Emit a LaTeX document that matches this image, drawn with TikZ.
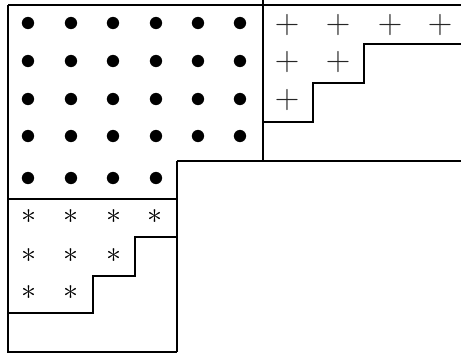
\RequirePackage{fix-cm}
\documentclass[tikz,border=0pt]{standalone}
\usepackage{amsmath,amssymb}
\usepackage{tikz}
\usetikzlibrary{positioning}

\begin{document}
\begin{tikzpicture}[
  x=1pt, y=-1pt,
  edge/.style={line width=2.2pt},
  stair/.style={line width=2.8pt},
  dotmark/.style={inner sep=0pt, font=\fontsize{32}{34}\selectfont},
  plusmark/.style={inner sep=0pt, font=\fontsize{34}{36}\selectfont, text=black!85},
  starmark/.style={inner sep=0pt, font=\fontsize{30}{32}\selectfont}
]
\useasboundingbox (0,0) rectangle (461,354);

% frame lines
\draw[edge] (8,5) -- (461,5);
\draw[edge] (8,5) -- (8,352) -- (177,352);
\draw[edge] (263,0) -- (263,161);
\draw[edge] (177,161) -- (461,161);
\draw[edge] (177,161) -- (177,352);
\draw[edge] (8,199) -- (177,199);

% staircases
\draw[stair] (263,122) -- (313,122) -- (313,83) -- (364,83) -- (364,44) -- (461,44);
\draw[stair] (8,313) -- (93,313) -- (93,276) -- (135,276) -- (135,237) -- (177,237);

% bullets
\foreach \r/\y in {1/24, 2/62, 3/100, 4/137}
  \foreach \c/\x in {1/28.5, 2/71, 3/113.5, 4/156, 5/198.5, 6/240}
    \node[dotmark] (d\r\c) at (\x,\y) {$\bullet$};
\foreach \c/\x in {1/28.5, 2/71, 3/113.5, 4/156}
  \node[dotmark] (d5\c) at (\x,179) {$\bullet$};

% plus signs
\foreach \c/\x in {1/287, 2/338, 3/390, 4/440}
  \node[plusmark] (p1\c) at (\x,25) {$+$};
\foreach \c/\x in {1/287, 2/338}
  \node[plusmark] (p2\c) at (\x,62) {$+$};
\node[plusmark] (p31) at (287,100) {$+$};

% stars
\foreach \c/\x in {1/29, 2/71, 3/114, 4/155}
  \node[starmark] (s1\c) at (\x,217) {$\ast$};
\foreach \c/\x in {1/29, 2/71, 3/114}
  \node[starmark] (s2\c) at (\x,256) {$\ast$};
\foreach \c/\x in {1/29, 2/71}
  \node[starmark] (s3\c) at (\x,293) {$\ast$};

\end{tikzpicture}
\end{document}
